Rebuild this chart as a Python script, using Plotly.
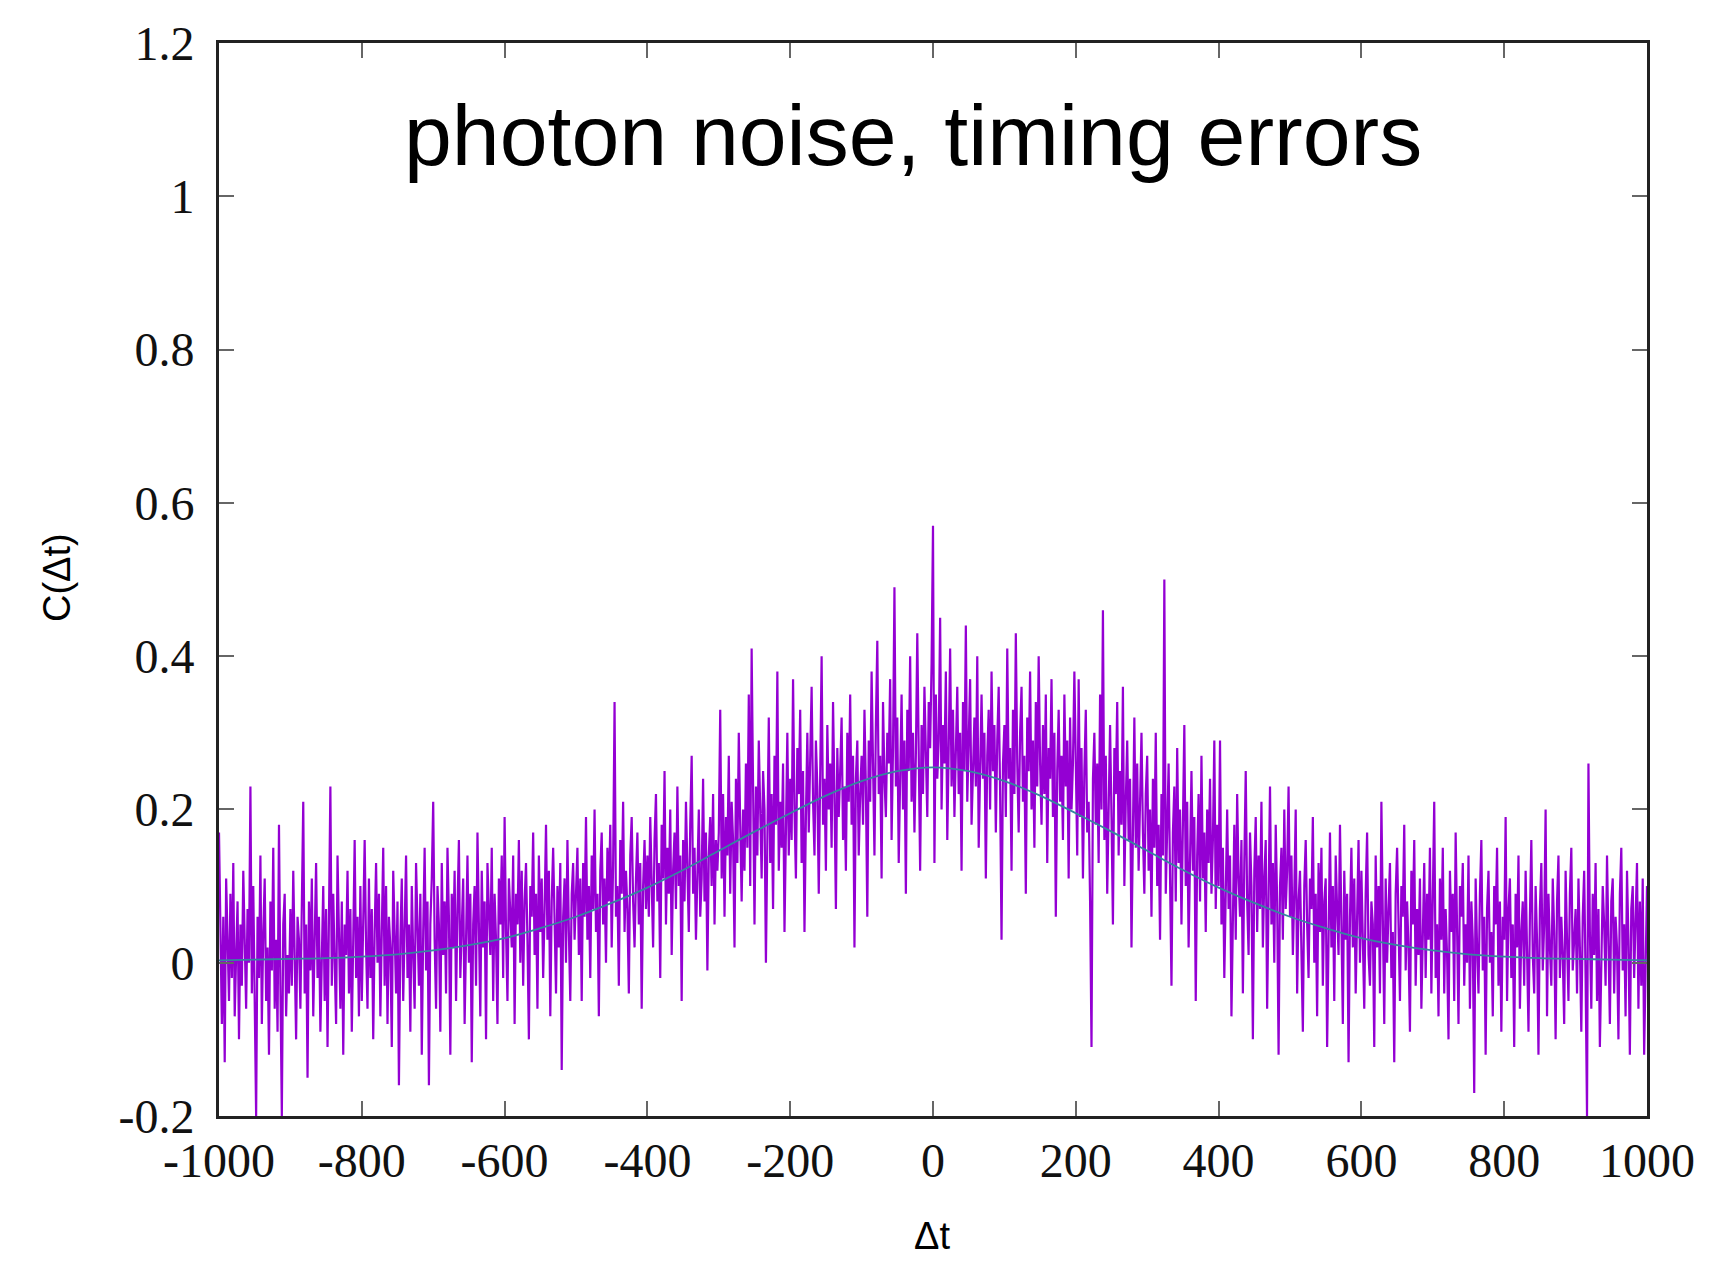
import plotly.graph_objects as go

# Correlation values, step 2 in Δt from -1000 to 1000
C_NOISY = [
    # -1000 .. -902
    0.17, 0.02, -0.08, 0.06, -0.13, 0.11, 0.04, -0.05, 0.09, -0.02,
    0.13, -0.07, 0.01, 0.08, -0.10, 0.05, -0.03, 0.12, 0.03, -0.06,
    0.07, 0.00, 0.23, -0.04, 0.10, -0.09, -0.20, 0.06, -0.02, 0.14,
    -0.08, 0.04, 0.11, -0.05, 0.02, -0.12, 0.08, -0.01, 0.15, -0.06,
    0.03, -0.09, 0.18, -0.03, -0.20, 0.05, 0.09, -0.07, 0.01, -0.04,
    # -900 .. -802
    0.07, -0.03, 0.12, 0.01, -0.10, 0.06, 0.03, -0.06, 0.09, 0.21,
    -0.04, 0.05, -0.15, 0.08, -0.01, 0.11, -0.07, 0.04, 0.13, -0.02,
    0.06, -0.09, 0.02, 0.10, -0.05, 0.07, -0.11, 0.03, 0.23, -0.03,
    0.09, 0.00, -0.08, 0.14, 0.04, -0.06, 0.08, -0.12, 0.05, 0.01,
    0.12, -0.04, 0.07, -0.09, 0.03, 0.16, -0.02, 0.06, -0.07, 0.10,
    # -800 .. -702
    -0.05, 0.08, 0.16, 0.02, -0.06, 0.11, -0.02, 0.07, -0.10, 0.04,
    0.13, 0.00, 0.09, -0.07, 0.05, 0.15, -0.03, 0.10, -0.08, 0.06,
    0.02, -0.11, 0.12, 0.04, -0.04, 0.08, -0.16, 0.03, 0.11, -0.05,
    0.07, 0.14, -0.02, 0.05, -0.09, 0.10, 0.01, -0.06, 0.13, 0.06,
    -0.03, 0.09, -0.12, 0.04, 0.15, -0.01, 0.08, -0.16, 0.05, 0.11,
    # -700 .. -602
    0.21, 0.03, -0.06, 0.10, 0.05, -0.09, 0.13, 0.01, 0.08, -0.04,
    0.15, 0.06, -0.12, 0.09, 0.02, 0.12, -0.05, 0.07, 0.16, -0.02,
    0.04, 0.11, -0.08, 0.06, 0.14, 0.00, 0.09, -0.13, 0.05, 0.10,
    -0.03, 0.17, 0.04, -0.07, 0.12, 0.02, 0.08, -0.10, 0.13, 0.06,
    0.01, 0.15, -0.05, 0.09, 0.03, -0.08, 0.11, 0.05, 0.14, -0.02,
    # -600 .. -502
    0.19, 0.04, -0.05, 0.11, 0.07, 0.02, 0.14, -0.08, 0.09, 0.05,
    0.16, 0.00, 0.12, -0.03, 0.08, 0.13, 0.03, -0.10, 0.10, 0.06,
    0.17, 0.01, 0.09, -0.06, 0.14, 0.04, 0.11, -0.02, 0.07, 0.18,
    0.03, 0.12, -0.07, 0.08, 0.15, 0.05, -0.04, 0.10, 0.02, 0.13,
    -0.14, 0.06, 0.11, 0.00, 0.16, 0.04, -0.05, 0.09, 0.13, 0.03,
    # -500 .. -402
    0.08, 0.15, 0.01, 0.11, -0.05, 0.13, 0.06, 0.19, 0.03, 0.10,
    -0.02, 0.14, 0.07, 0.20, 0.04, 0.09, -0.07, 0.12, 0.17, 0.05,
    0.11, 0.00, 0.15, 0.08, 0.18, 0.02, 0.13, 0.34, 0.06, 0.10,
    -0.03, 0.16, 0.09, 0.21, 0.04, 0.12, 0.07, -0.04, 0.14, 0.19,
    0.08, 0.02, 0.11, 0.17, 0.05, 0.13, -0.06, 0.10, 0.16, 0.07,
    # -400 .. -302
    0.14, 0.06, 0.19, 0.10, 0.02, 0.16, 0.22, 0.08, 0.13, -0.02,
    0.18, 0.11, 0.25, 0.05, 0.15, 0.09, 0.20, 0.01, 0.12, 0.17,
    0.07, 0.23, 0.10, 0.14, -0.05, 0.16, 0.08, 0.21, 0.12, 0.04,
    0.18, 0.27, 0.09, 0.15, 0.03, 0.13, 0.20, 0.06, 0.11, 0.24,
    0.08, 0.17, -0.01, 0.14, 0.19, 0.10, 0.22, 0.05, 0.16, 0.12,
    # -300 .. -202
    0.17, 0.33, 0.11, 0.22, 0.06, 0.19, 0.14, 0.27, 0.09, 0.21,
    0.16, 0.02, 0.24, 0.13, 0.30, 0.18, 0.08, 0.20, 0.12, 0.26,
    0.15, 0.35, 0.10, 0.41, 0.19, 0.05, 0.23, 0.14, 0.29, 0.17,
    0.11, 0.25, 0.20, 0.00, 0.16, 0.32, 0.13, 0.22, 0.07, 0.27,
    0.18, 0.38, 0.12, 0.21, 0.15, 0.26, 0.04, 0.19, 0.30, 0.14,
    # -200 .. -102
    0.24, 0.16, 0.37, 0.20, 0.11, 0.28, 0.22, 0.33, 0.13, 0.25,
    0.04, 0.19, 0.30, 0.17, 0.26, 0.36, 0.21, 0.14, 0.29, 0.23,
    0.09, 0.27, 0.40, 0.18, 0.24, 0.12, 0.31, 0.20, 0.26, 0.15,
    0.34, 0.22, 0.07, 0.28, 0.19, 0.25, 0.32, 0.16, 0.23, 0.12,
    0.30, 0.21, 0.35, 0.18, 0.27, 0.02, 0.24, 0.29, 0.14, 0.22,
    # -100 .. -2
    0.27, 0.18, 0.33, 0.23, 0.06, 0.29, 0.21, 0.38, 0.25, 0.14,
    0.31, 0.42, 0.22, 0.27, 0.11, 0.34, 0.24, 0.19, 0.30, 0.26,
    0.37, 0.16, 0.28, 0.49, 0.23, 0.32, 0.13, 0.26, 0.35, 0.20,
    0.29, 0.09, 0.33, 0.25, 0.40, 0.21, 0.30, 0.17, 0.27, 0.43,
    0.24, 0.12, 0.31, 0.22, 0.36, 0.26, 0.19, 0.34, 0.28, 0.39,
    # 0 .. 98
    0.57, 0.13, 0.35, 0.24, 0.29, 0.45, 0.20, 0.31, 0.26, 0.38,
    0.16, 0.28, 0.41, 0.23, 0.33, 0.19, 0.27, 0.36, 0.22, 0.30,
    0.12, 0.34, 0.25, 0.44, 0.21, 0.29, 0.37, 0.18, 0.26, 0.32,
    0.23, 0.40, 0.15, 0.28, 0.35, 0.24, 0.30, 0.11, 0.27, 0.33,
    0.20, 0.38, 0.25, 0.31, 0.17, 0.29, 0.36, 0.22, 0.03, 0.26,
    # 100 .. 198
    0.31, 0.19, 0.41, 0.24, 0.28, 0.12, 0.33, 0.22, 0.43, 0.26,
    0.17, 0.30, 0.36, 0.21, 0.27, 0.09, 0.32, 0.25, 0.38, 0.20,
    0.29, 0.15, 0.34, 0.23, 0.40, 0.26, 0.18, 0.31, 0.22, 0.35,
    0.13, 0.28, 0.24, 0.37, 0.19, 0.30, 0.06, 0.25, 0.33, 0.21,
    0.27, 0.16, 0.35, 0.23, 0.29, 0.11, 0.32, 0.20, 0.26, 0.38,
    # 200 .. 298
    0.22, 0.14, 0.37, 0.19, 0.28, 0.11, 0.25, 0.33, 0.17, 0.21,
    0.08, -0.11, 0.24, 0.30, 0.18, 0.26, 0.13, 0.35, 0.20, 0.46,
    0.16, 0.27, 0.09, 0.23, 0.31, 0.19, 0.05, 0.28, 0.22, 0.34,
    0.14, 0.25, 0.18, 0.36, 0.10, 0.21, 0.29, 0.16, 0.24, 0.02,
    0.20, 0.32, 0.15, 0.26, 0.12, 0.23, 0.30, 0.17, 0.09, 0.22,
    # 300 .. 398
    0.27, 0.12, 0.20, 0.06, 0.24, 0.15, 0.30, 0.10, 0.18, 0.03,
    0.22, 0.14, 0.50, 0.09, 0.19, 0.26, 0.11, -0.03, 0.17, 0.23,
    0.08, 0.28, 0.13, 0.20, 0.05, 0.16, 0.31, 0.10, 0.21, 0.02,
    0.15, 0.25, 0.12, 0.19, -0.05, 0.14, 0.22, 0.08, 0.27, 0.11,
    0.17, 0.04, 0.20, 0.13, 0.24, 0.09, 0.16, 0.29, 0.07, 0.18,
    # 400 .. 498
    0.10, 0.29, 0.05, 0.15, -0.02, 0.12, 0.20, 0.07, 0.14, -0.07,
    0.09, 0.18, 0.03, 0.22, 0.11, 0.06, 0.16, -0.04, 0.13, 0.25,
    0.08, 0.01, 0.17, 0.10, -0.10, 0.12, 0.19, 0.04, 0.14, 0.07,
    0.21, 0.02, 0.11, 0.16, -0.06, 0.09, 0.23, 0.05, 0.13, 0.00,
    0.18, 0.08, -0.12, 0.10, 0.15, 0.03, 0.20, 0.07, 0.12, 0.23,
    # 500 .. 598
    0.06, 0.14, 0.01, 0.09, 0.20, -0.04, 0.08, 0.12, 0.03, -0.09,
    0.10, 0.16, 0.05, -0.02, 0.11, 0.07, 0.19, 0.00, 0.09, -0.07,
    0.13, 0.04, 0.15, -0.03, 0.08, 0.11, -0.11, 0.06, 0.17, 0.02,
    0.10, -0.05, 0.14, 0.07, 0.01, 0.18, 0.05, -0.08, 0.12, 0.03,
    0.09, -0.13, 0.06, 0.15, 0.02, 0.11, -0.04, 0.08, 0.16, 0.00,
    # 600 .. 698
    0.12, 0.03, -0.06, 0.09, 0.17, 0.01, -0.03, 0.08, 0.05, -0.11,
    0.14, 0.02, 0.10, -0.04, 0.21, 0.06, -0.08, 0.11, 0.00, 0.07,
    0.13, -0.02, 0.04, -0.13, 0.09, 0.15, 0.03, -0.05, 0.10, 0.06,
    0.18, -0.01, 0.08, 0.02, -0.09, 0.12, 0.05, 0.16, -0.03, 0.07,
    0.01, 0.11, -0.06, 0.04, 0.13, -0.02, 0.09, 0.03, 0.15, -0.04,
    # 700 .. 798
    0.08, 0.21, -0.02, 0.05, -0.07, 0.11, 0.03, 0.15, -0.04, 0.07,
    0.01, -0.10, 0.12, 0.04, 0.09, -0.05, 0.17, 0.02, -0.08, 0.10,
    0.06, 0.13, -0.03, 0.05, 0.00, 0.14, -0.06, 0.08, 0.03, -0.17,
    0.11, 0.02, -0.04, 0.09, 0.16, -0.01, 0.06, -0.12, 0.07, 0.12,
    0.00, 0.04, -0.07, 0.10, 0.05, 0.15, -0.03, 0.08, -0.09, 0.06,
    # 800 .. 898
    0.03, 0.19, -0.05, 0.07, 0.11, -0.02, 0.05, -0.11, 0.09, 0.02,
    0.14, -0.06, 0.04, 0.08, -0.03, 0.12, 0.00, -0.09, 0.06, 0.16,
    0.01, -0.04, 0.10, 0.03, -0.12, 0.07, 0.13, -0.01, 0.05, 0.20,
    -0.07, 0.09, 0.02, -0.03, 0.11, 0.04, -0.10, 0.08, 0.14, -0.02,
    0.06, 0.01, -0.08, 0.12, 0.03, -0.05, 0.09, 0.15, -0.01, 0.04,
    # 900 .. 1000
    0.07, -0.04, 0.11, 0.02, -0.09, 0.06, 0.12, -0.02, -0.20, 0.26,
    0.04, -0.06, 0.09, 0.01, 0.13, -0.05, 0.07, -0.11, 0.03, 0.10,
    0.05, -0.03, 0.14, 0.00, -0.08, 0.08, 0.11, -0.04, 0.06, 0.02,
    -0.10, 0.09, 0.15, -0.01, 0.05, -0.07, 0.12, 0.03, -0.12, 0.07,
    0.10, -0.02, 0.04, 0.13, -0.06, 0.08, -0.03, 0.11, -0.12, 0.02,
    0.10,
]
DT_START, DT_END = -1000, 1000
DT_NOISY = [DT_START + (DT_END - DT_START) * i / (len(C_NOISY) - 1) for i in range(len(C_NOISY))]

# Fitted curve, every 50 units
DT_FIT = [-1000, -950, -900, -850, -800, -750, -700, -650, -600, -550, -500, -450, -400, -350,
          -300, -250, -200, -150, -100, -50, 0, 50, 100, 150, 200, 250, 300, 350, 400, 450,
          500, 550, 600, 650, 700, 750, 800, 850, 900, 950, 1000]
C_FIT = [0.003, 0.004, 0.005, 0.006, 0.008, 0.011, 0.016, 0.023, 0.032, 0.045, 0.060, 0.078,
         0.098, 0.121, 0.146, 0.171, 0.195, 0.218, 0.237, 0.250, 0.255, 0.250, 0.237, 0.218,
         0.195, 0.171, 0.146, 0.121, 0.098, 0.078, 0.060, 0.045, 0.032, 0.023, 0.016, 0.011,
         0.008, 0.006, 0.005, 0.004, 0.003]

X_TICKS = [-1000, -800, -600, -400, -200, 0, 200, 400, 600, 800, 1000]
X_TICK_LABELS = ["-1000", "-800", "-600", "-400", "-200", "0", "200", "400", "600", "800", "1000"]
Y_TICKS = [-0.2, 0, 0.2, 0.4, 0.6, 0.8, 1, 1.2]
Y_TICK_LABELS = ["-0.2", "0", "0.2", "0.4", "0.6", "0.8", "1", "1.2"]

TITLE = "photon noise, timing errors"
X_LABEL = "Δt"
Y_LABEL = "C(Δt)"

fig = go.Figure()
fig.add_trace(go.Scatter(x=DT_NOISY, y=C_NOISY, mode="lines",
                         line=dict(color="#9400d3", width=2.2), showlegend=False))
fig.add_trace(go.Scatter(x=DT_FIT, y=C_FIT, mode="lines", line_shape="spline",
                         line=dict(color="#3585a0", width=1.8), showlegend=False))

tickfont = dict(family="Liberation Serif, Times New Roman, serif", size=48, color="#111")
axis_common = dict(showline=True, linecolor="#222", linewidth=3, mirror="allticks",
                   ticks="inside", ticklen=15, tickwidth=2, tickcolor="#666",
                   showgrid=False, zeroline=False, tickfont=tickfont,
                   automargin=False, ticklabeloverflow="allow")

fig.update_xaxes(range=[-1000, 1000], tickvals=X_TICKS, ticktext=X_TICK_LABELS,
                 ticklabelstandoff=0, **axis_common)
fig.update_yaxes(range=[-0.2, 1.2], tickvals=Y_TICKS, ticktext=Y_TICK_LABELS,
                 ticklabelstandoff=12, **axis_common)

sans = "Liberation Sans, Arial, Helvetica, sans-serif"
fig.add_annotation(x=0.486, y=0.914, xref="paper", yref="paper", text=TITLE, showarrow=False,
                   font=dict(family=sans, size=86, color="black"), xanchor="center", yanchor="middle")
fig.add_annotation(x=0.499, y=-0.112, xref="paper", yref="paper", text=X_LABEL, showarrow=False,
                   font=dict(family=sans, size=38, color="black"), xanchor="center", yanchor="middle")
fig.add_annotation(x=-0.113, y=0.502, xref="paper", yref="paper", text=Y_LABEL, showarrow=False,
                   textangle=-90,
                   font=dict(family=sans, size=38, color="black"), xanchor="center", yanchor="middle")

fig.update_layout(width=1711, height=1264, margin=dict(l=211, r=72, t=35, b=156),
                  plot_bgcolor="white", paper_bgcolor="white")

fig.write_html("out.html")
